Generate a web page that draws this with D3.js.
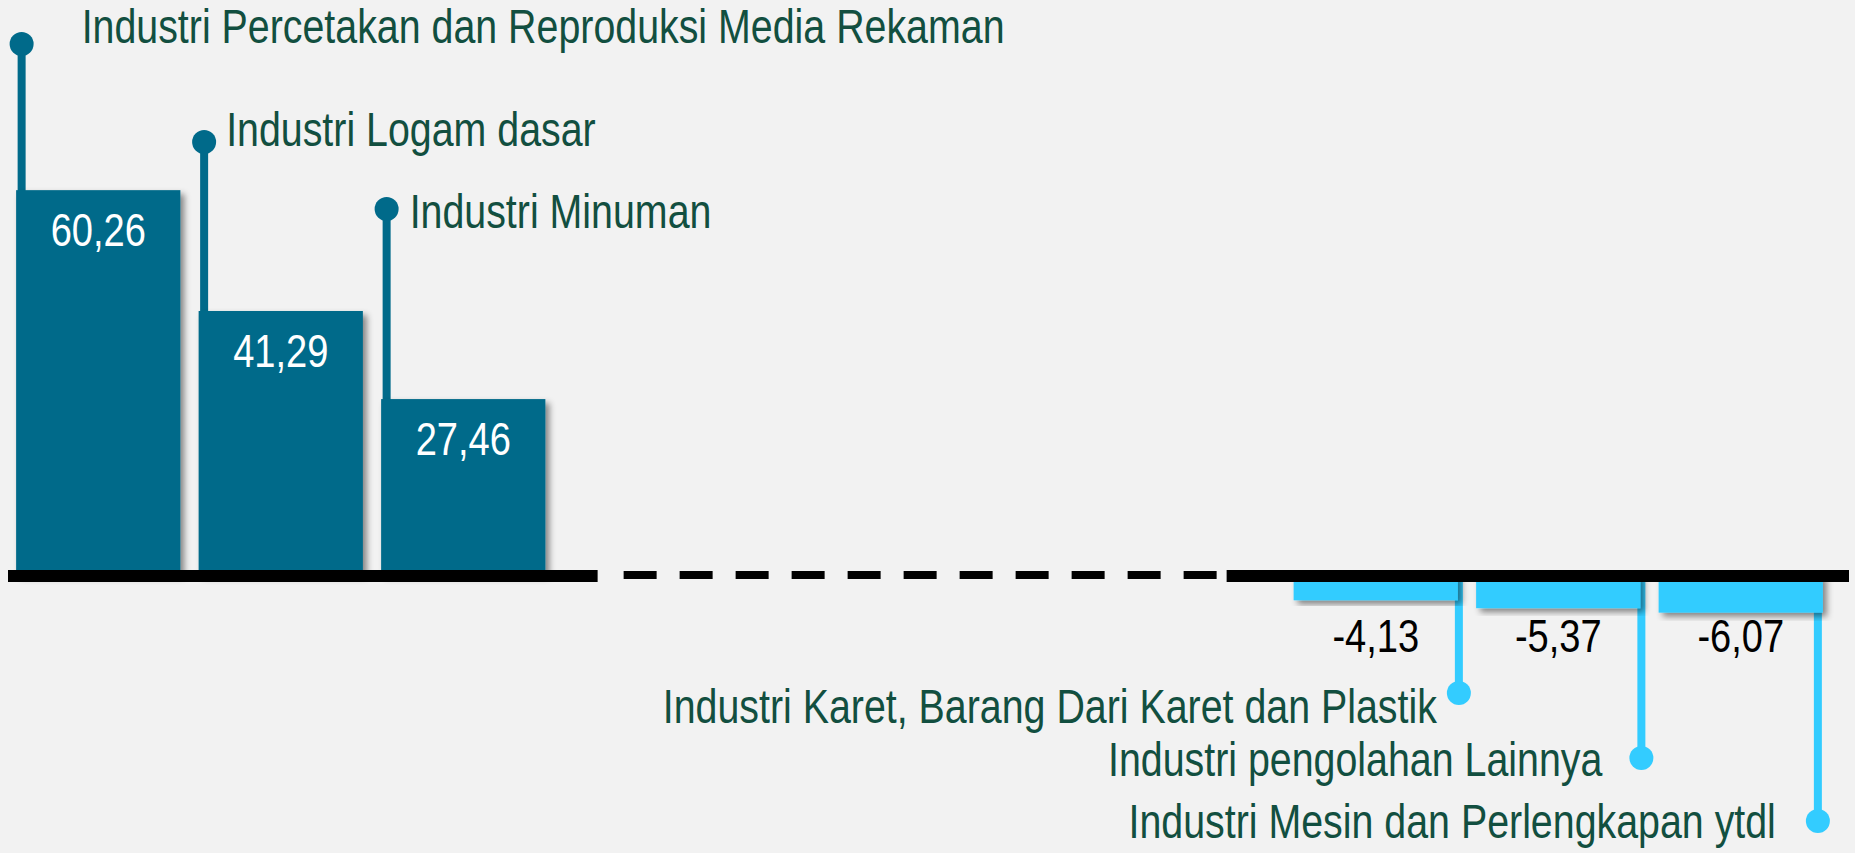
<!DOCTYPE html>
<html>
<head>
<meta charset="utf-8">
<script src="https://cdn.jsdelivr.net/npm/d3@7"></script>
<style>
  html, body { margin: 0; padding: 0; background: #f2f2f2; overflow: hidden; }
  svg { display: block; }
  text { font-family: "Liberation Sans", Arial, sans-serif; }
</style>
</head>
<body>
<svg id="chart" width="1855" height="853"></svg>
<script>
// top three and bottom three industries, growth in percent
const gainers = ['Industri Percetakan dan Reproduksi Media Rekaman', 'Industri Logam dasar', 'Industri Minuman'];
const gainerValues = [60.26, 41.29, 27.46];
const losers = ['Industri Karet, Barang Dari Karet dan Plastik', 'Industri pengolahan Lainnya', 'Industri Mesin dan Perlengkapan ytdl'];
const loserValues = [-4.13, -5.37, -6.07];

const DARK = '#006a8a';
const LIGHT = '#33ccff';
const LABEL = '#124f40';
const GAP_SLOTS = 4; // hidden middle industries, shown as the dashed stretch

// no narrow font installed, so squeeze the regular sans to look like Arial Narrow
const LABEL_SIZE = 48, LABEL_SQUEEZE = 0.82;
const VALUE_SIZE = 47, VALUE_SQUEEZE = 0.81;

// callout placement (hand-tuned like the original slide)
const upDotY = [44, 142, 209];
const upLabelDx = [60, 22, 23];
const upLabelDy = [-1, 4, 19];
const downDotY = [693, 758, 821];
const downStemDx = [1, 1, -5];
const downLabelDx = [-22, -39, -42];
const downLabelDy = [30, 18, 17];

const svg = d3.select('#chart');
const nSlots = gainers.length + GAP_SLOTS + losers.length;

const x = d3.scaleBand().domain(d3.range(nSlots)).range([7, 1832]).paddingInner(0.1).paddingOuter(0.05);
const y = d3.scaleLinear().domain([0, 60]).range([574, 191.8]);
const bw = x.bandwidth();

const defs = svg.append('defs');
defs.append('filter').attr('id', 'shadow').attr('x', '-10%').attr('y', '-10%').attr('width', '130%').attr('height', '130%')
    .append('feDropShadow')
    .attr('dx', 4).attr('dy', 4).attr('stdDeviation', 3)
    .attr('flood-color', '#000').attr('flood-opacity', 0.45);

const up = gainers.map((name, i) => ({ name, value: gainerValues[i], slot: i, i }));
const down = losers.map((name, i) => ({ name, value: loserValues[i], slot: gainers.length + GAP_SLOTS + i, i }));

const squeezed = (px, py, s) => `translate(${px},${py}) scale(${s},1)`;

// stems behind the bars
svg.append('g').selectAll('line').data(up).join('line')
    .attr('x1', (d) => x(d.slot) + 5.5).attr('x2', (d) => x(d.slot) + 5.5)
    .attr('y1', (d) => upDotY[d.i]).attr('y2', y(0))
    .attr('stroke', DARK).attr('stroke-width', 8);

svg.append('g').selectAll('line').data(down).join('line')
    .attr('x1', (d) => x(d.slot) + bw + downStemDx[d.i]).attr('x2', (d) => x(d.slot) + bw + downStemDx[d.i])
    .attr('y1', y(0) + 6).attr('y2', (d) => downDotY[d.i])
    .attr('stroke', LIGHT).attr('stroke-width', 8).attr('stroke-linecap', 'round');

// bars
svg.append('g').selectAll('rect').data(up).join('rect')
    .attr('x', (d) => x(d.slot)).attr('width', bw)
    .attr('y', (d) => y(d.value)).attr('height', (d) => y(0) - y(d.value))
    .attr('fill', DARK).attr('filter', 'url(#shadow)');

svg.append('g').selectAll('rect').data(down).join('rect')
    .attr('x', (d) => x(d.slot)).attr('width', bw)
    .attr('y', y(0)).attr('height', (d) => y(d.value) - y(0))
    .attr('fill', LIGHT).attr('filter', 'url(#shadow)');

// zero line: solid, dashed over the skipped industries, solid again
const base = svg.append('g').attr('stroke', '#000');
const leftEnd = x(gainers.length) + 34;
const rightStart = x(gainers.length + GAP_SLOTS) - 67;
base.append('line').attr('x1', 8).attr('x2', leftEnd).attr('y1', y(0) + 2).attr('y2', y(0) + 2).attr('stroke-width', 12);
base.append('line').attr('x1', leftEnd + 26).attr('x2', rightStart - 9).attr('y1', y(0) + 1).attr('y2', y(0) + 1)
    .attr('stroke-width', 8).attr('stroke-dasharray', '33 23');
base.append('line').attr('x1', rightStart).attr('x2', 1849).attr('y1', y(0) + 2).attr('y2', y(0) + 2).attr('stroke-width', 12);

// dots
svg.append('g').selectAll('circle').data(up).join('circle')
    .attr('cx', (d) => x(d.slot) + 5.5).attr('cy', (d) => upDotY[d.i]).attr('r', 12).attr('fill', DARK);
svg.append('g').selectAll('circle').data(down).join('circle')
    .attr('cx', (d) => x(d.slot) + bw + downStemDx[d.i]).attr('cy', (d) => downDotY[d.i]).attr('r', 12).attr('fill', LIGHT);

// category labels
svg.append('g').selectAll('text').data(up).join('text')
    .attr('transform', (d) => squeezed(x(d.slot) + 5.5 + upLabelDx[d.i], upDotY[d.i] + upLabelDy[d.i], LABEL_SQUEEZE))
    .attr('font-size', LABEL_SIZE).attr('fill', LABEL)
    .text((d) => d.name);

svg.append('g').selectAll('text').data(down).join('text')
    .attr('transform', (d) => squeezed(x(d.slot) + bw + downStemDx[d.i] + downLabelDx[d.i], downDotY[d.i] + downLabelDy[d.i], LABEL_SQUEEZE))
    .attr('text-anchor', 'end')
    .attr('font-size', LABEL_SIZE).attr('fill', LABEL)
    .text((d) => d.name);

// value labels
const fmt = (v) => v.toFixed(2).replace('.', ',');
svg.append('g').selectAll('text').data(up).join('text')
    .attr('transform', (d) => squeezed(x(d.slot) + bw / 2, y(d.value) + 56, VALUE_SQUEEZE))
    .attr('text-anchor', 'middle').attr('font-size', VALUE_SIZE).attr('fill', '#fff')
    .text((d) => fmt(d.value));

svg.append('g').selectAll('text').data(down).join('text')
    .attr('transform', (d) => squeezed(x(d.slot) + bw / 2, y(0) + 78, VALUE_SQUEEZE))
    .attr('text-anchor', 'middle').attr('font-size', VALUE_SIZE).attr('fill', '#000')
    .text((d) => fmt(d.value));
</script>
</body>
</html>
